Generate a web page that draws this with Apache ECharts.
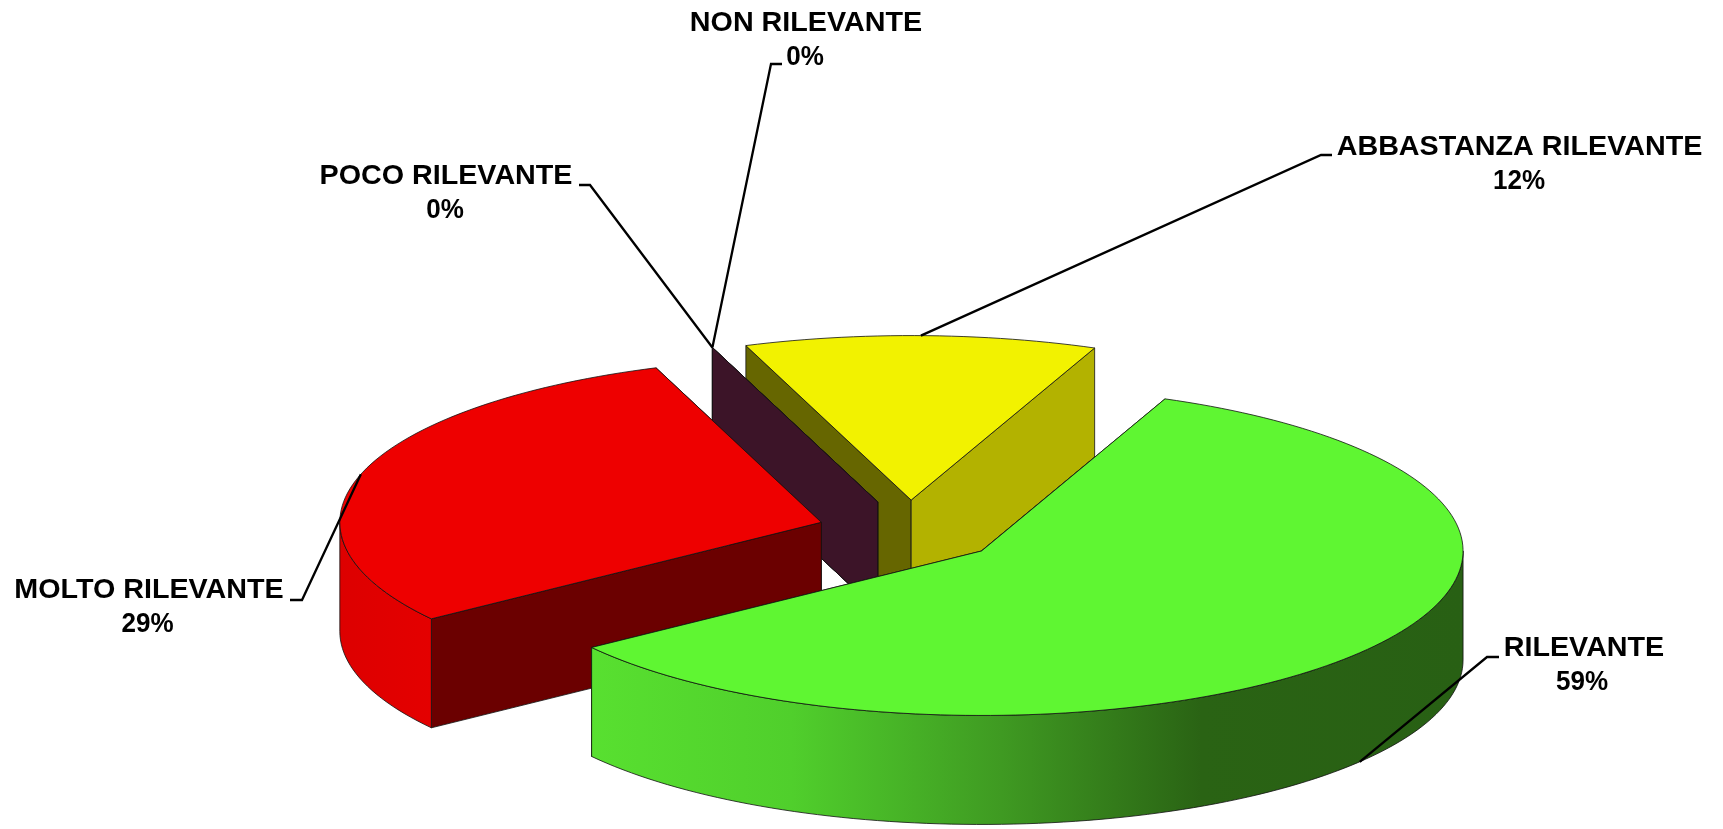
<!DOCTYPE html>
<html>
<head>
<meta charset="utf-8">
<style>html,body{margin:0;padding:0;background:#fff}#c{width:1723px;height:829px}</style>
<script src="https://cdn.jsdelivr.net/npm/echarts@6/dist/echarts.min.js"></script>
</head>
<body>
<div id="c"></div>
<script>
// ---- data, clockwise from the start angle ----
const categories = ['RILEVANTE', 'MOLTO RILEVANTE', 'POCO RILEVANTE', 'NON RILEVANTE', 'ABBASTANZA RILEVANTE'];
const values = [58.8, 29.4, 0, 0, 11.8];

// ---- styles ----
const topColors = ['#5ff632', '#ee0000', '#3c1428', '#3c1428', '#f2f200'];
const startWallColors = ['#2a6014', '#6b0000', '#3c1428', '#3c1428', '#666600'];   // radial wall at the slice's first edge
const endWallColors = ['#2a6014', '#6b0000', '#3c1428', '#3c1428', '#b3b200'];     // radial wall at the slice's last edge
const outerStops = [
  [[0, '#58e030'], [0.23, '#50cf2c'], [0.47, '#3f9a22'], [0.7, '#2a6314'], [1, '#286014']],
  [[0, '#dd0000'], [1, '#e40000']],
  null, null, null
];
const paintOrder = [5, 4, 2, 3, 1];

// ---- layout ----
const CX = 909.3, CY = 531.5, RX = 481.5, RY = 164.5, DEPTH = 109, EXPLODE = 92, START = 67.6;
const FONT = 'bold 28px "Liberation Sans", Arial, sans-serif';
// centre x, cap-centre y of the name, then the same for the percentage
const labelPlace = [
  [1584, 648, 1582, 682],
  [149, 590, 147.5, 624],
  [446, 176, 445, 210],
  [806, 23, 805, 57],
  [1519.5, 147, 1519, 181]
];
// elbow of each leader: outer end x, knee x, y
const leaderPlace = [
  [1499, 1487, 657],
  [290, 302, 600],
  [579, 590, 185],
  [782, 771, 64],
  [1332, 1321, 155]
];

const total = values.reduce((a, b) => a + b, 0);
const rad = d => d * Math.PI / 180;
const spans = [];
values.reduce((s, v) => { const e = s - v / total * 360; spans.push([s, e]); return e; }, START);

function project(tip, t, extra) {
  return [tip[0] + RX * Math.cos(rad(t)), tip[1] - RY * Math.sin(rad(t)) + (extra || 0)];
}
function arc(tip, from, to, extra) {
  const n = Math.max(2, Math.ceil(Math.abs(from - to) / 1.5));
  const pts = [];
  for (let i = 0; i <= n; i++) pts.push(project(tip, from + (to - from) * i / n, extra));
  return pts;
}

function renderItem(params) {
  const i = params.dataIndex;
  const [s, e] = spans[i];
  const mid = (s + e) / 2;
  const tip = [CX + EXPLODE * Math.cos(rad(mid)), CY - EXPLODE * RY / RX * Math.sin(rad(mid))];
  const z = paintOrder[i] * 10;
  const edge = { stroke: '#111', lineWidth: 0.8, lineJoin: 'round' };
  const kids = [];
  const poly = (points, fill, zz) => kids.push({
    type: 'polygon', z2: z + zz, shape: { points }, style: Object.assign({ fill }, edge)
  });
  const wall = (t, color, zz) => {
    const c = project(tip, t);
    poly([tip, c, [c[0], c[1] + DEPTH], [tip[0], tip[1] + DEPTH]], color, zz);
  };
  // the wall whose outer corner is further back is painted first
  const startIsBack = Math.sin(rad(s)) >= Math.sin(rad(e));
  wall(s, startWallColors[i], startIsBack ? 1 : 2);
  wall(e, endWallColors[i], startIsBack ? 2 : 1);
  // outer rim, front half of the ellipse only
  const hi = Math.min(s, 0), lo = Math.max(e, -180);
  if (hi > lo && outerStops[i]) {
    const top = arc(tip, lo, hi, 0);
    const bot = arc(tip, hi, lo, DEPTH);
    const stops = outerStops[i].map(p => ({ offset: p[0], color: p[1] }));
    poly(top.concat(bot), new echarts.graphic.LinearGradient(0, 0, 1, 0, stops), 3);
  }
  // top face
  if (values[i] > 0) poly([tip].concat(arc(tip, s, e, 0)), topColors[i], 4);

  // leader: runs from the label elbow to the slice edge at its mid angle
  const onFront = values[i] > 0 && Math.sin(rad(mid)) < -0.3;
  const anchor = project(tip, mid, onFront ? DEPTH : 0);
  const lp = leaderPlace[i];
  kids.push({
    type: 'polyline', z2: 200,
    shape: { points: [[lp[0], lp[2]], [lp[1], lp[2]], anchor] },
    style: { fill: 'none', stroke: '#000', lineWidth: 2.3 }
  });
  // labels
  const pl = labelPlace[i];
  const text = (t, x, y, sx) => kids.push({
    type: 'text', z2: 210, x, y, scaleX: sx, scaleY: 1,
    style: { text: t, font: FONT, fill: '#000', align: 'center', verticalAlign: 'middle' }
  });
  text(categories[i], pl[0], pl[1], 1.025);
  text(Math.round(values[i]) + '%', pl[2], pl[3], 0.93);
  return { type: 'group', children: kids };
}

const chart = echarts.init(document.getElementById('c'), null, { renderer: 'canvas' });
chart.setOption({
  backgroundColor: '#ffffff',
  animation: false,
  series: [{
    type: 'custom',
    coordinateSystem: 'none',
    silent: true,
    data: values.map((v, i) => ({ name: categories[i], value: [v] })),
    renderItem
  }]
});
</script>
</body>
</html>
